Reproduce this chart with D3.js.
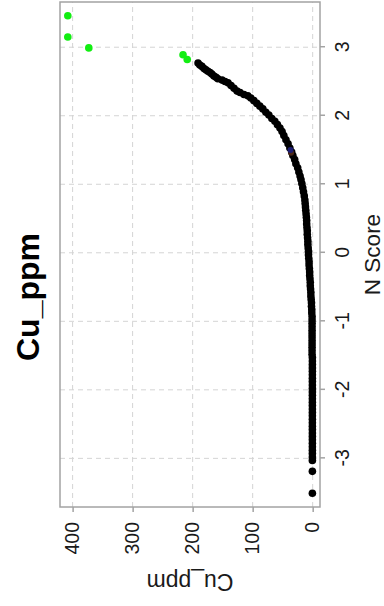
<!DOCTYPE html>
<html>
<head>
<meta charset="utf-8">
<script src="https://cdn.jsdelivr.net/npm/d3@7"></script>
<style>
  html, body { margin: 0; padding: 0; background: #ffffff; }
  svg { display: block; font-family: "Liberation Sans", Arial, Helvetica, sans-serif; }
</style>
</head>
<body>
<svg id="chart" width="384" height="606"></svg>
<script>
// Normal scores (sorted) and the matching Cu values
const nScore = [
  -3.51, -3.19,
  -3.03, -2.98, -2.93, -2.88, -2.83, -2.78, -2.73, -2.68, -2.63, -2.58,
  -2.53, -2.48, -2.43, -2.38, -2.33, -2.28, -2.23, -2.18, -2.13, -2.08,
  -2.03, -1.98, -1.93, -1.88, -1.83, -1.78, -1.73, -1.68, -1.63, -1.58, -1.53,
  -1.48, -1.43, -1.38, -1.33, -1.28, -1.23, -1.18, -1.13, -1.08,
  -1.03, -0.98, -0.93, -0.88, -0.83, -0.78, -0.73, -0.68, -0.63, -0.58,
  -0.53, -0.48, -0.43, -0.38, -0.33, -0.28, -0.23, -0.18, -0.13, -0.08,
  -0.03, 0.02, 0.07, 0.12, 0.17, 0.22, 0.27, 0.32, 0.37, 0.42,
  0.47, 0.52, 0.57, 0.62, 0.67, 0.72,
  0.77, 0.83, 0.89, 0.95, 1.01, 1.07, 1.12, 1.18, 1.24, 1.30,
  1.36, 1.42, 1.47, 1.53, 1.59, 1.65, 1.71, 1.77, 1.82, 1.87,
  1.92, 1.96, 2.01, 2.05, 2.10, 2.14, 2.18, 2.22, 2.26, 2.29,
  2.31, 2.34, 2.36, 2.40, 2.44, 2.48, 2.50, 2.52, 2.54, 2.56,
  2.58, 2.61, 2.63, 2.65, 2.67, 2.69, 2.72, 2.74, 2.77
];
const cuPpm = [
  0.5, 0.5,
  0.5, 0.5, 0.5, 0.5, 0.5, 0.5, 0.5, 0.5, 0.5, 0.5,
  0.5, 0.5, 0.5, 0.5, 0.5, 0.5, 0.5, 0.5, 0.5, 0.5,
  0.5, 0.5, 0.5, 0.5, 0.5, 0.5, 0.5, 0.5, 0.5, 0.5, 0.5,
  1, 1, 1, 1, 1, 1, 1, 1, 1,
  1, 1, 1, 1.5, 1.5, 2, 2, 2.5, 3, 3,
  3.5, 4, 4, 4.5, 5, 5, 5.5, 6, 6, 6.5,
  7, 7, 7.5, 8, 8, 8.5, 9, 9, 9.5, 10,
  10, 10.5, 11, 11.5, 12, 12.5,
  13, 14, 15.3, 16.5, 18, 19.5, 21, 23, 25, 28,
  30, 33, 35, 38, 41, 44.5, 48, 51, 54.5, 58.7,
  63, 68, 73, 78, 83, 88, 93, 98, 103, 108,
  114.5, 121, 126, 131, 136, 141, 146, 151, 158, 161,
  164.5, 168, 171, 174.5, 178, 181, 184.5, 188, 191
];
// Upper outliers shown in green
const outlierScore = [2.82, 2.89, 2.99, 3.15, 3.46];
const outlierCu = [209, 216, 373, 408, 408];
// A few samples flagged in other colours
const accentScore = [1.46, 1.50];
const accentCu = [36, 37];
const accentColor = ["#4a2616", "#1c1c70"];

const scoreTicks = [-3, -2, -1, 0, 1, 2, 3];
const cuTicks = [0, 100, 200, 300, 400];

const titleText = "Cu_ppm";
const xLabel = "N Score";
const yLabel = "Cu_ppm";

// The plot is laid out in a landscape frame (606 wide, 384 tall) and turned a quarter-turn.
const svg = d3.select("#chart");
const g = svg.append("g").attr("transform", "translate(0,606) rotate(-90)");

const plot = { left: 99, right: 604, top: 60, bottom: 320 };

const x = d3.scaleLinear().domain([-3.71, 3.66]).range([plot.left, plot.right]);
const y = d3.scaleLinear().domain([-12.2, 421]).range([plot.bottom, plot.top]);

const gridColor = "#d4d4d4";
const axisColor = "#a3a3a3";
const textColor = "#1a1a1a";

// grid
g.append("g").selectAll("line.gx").data(scoreTicks).join("line")
  .attr("x1", d => x(d)).attr("x2", d => x(d))
  .attr("y1", plot.top).attr("y2", plot.bottom)
  .attr("stroke", gridColor).attr("stroke-width", 1).attr("stroke-dasharray", "5,4");
g.append("g").selectAll("line.gy").data(cuTicks).join("line")
  .attr("x1", plot.left).attr("x2", plot.right)
  .attr("y1", d => y(d)).attr("y2", d => y(d))
  .attr("stroke", gridColor).attr("stroke-width", 1).attr("stroke-dasharray", "5,4");

// axes
const xAxis = d3.axisBottom(x).tickValues(scoreTicks).tickSize(5).tickPadding(10)
  .tickFormat(d => String(d));
const yAxis = d3.axisLeft(y).tickValues(cuTicks).tickSize(5).tickPadding(10)
  .tickFormat(d => String(d));

const gx = g.append("g").attr("transform", `translate(0,${plot.bottom})`).call(xAxis);
const gy = g.append("g").attr("transform", `translate(${plot.left},0)`).call(yAxis);
[gx, gy].forEach(a => {
  a.select(".domain").remove();
  a.selectAll(".tick line").attr("stroke", axisColor).attr("stroke-width", 1.5);
  a.selectAll(".tick text").attr("fill", textColor)
    .style("font-size", "19.5px").style("font-family", "'Liberation Sans', Arial, sans-serif");
});

// frame
g.append("rect")
  .attr("x", plot.left).attr("y", plot.top)
  .attr("width", plot.right - plot.left).attr("height", plot.bottom - plot.top)
  .attr("fill", "none").attr("stroke", axisColor).attr("stroke-width", 1.5);

// points
const pts = nScore.map((s, i) => ({ s, v: cuPpm[i] }));
g.append("g").selectAll("circle").data(pts).join("circle")
  .attr("cx", d => x(d.s)).attr("cy", d => y(d.v)).attr("r", 3.8)
  .attr("fill", "#000000");

const acc = accentScore.map((s, i) => ({ s, v: accentCu[i], c: accentColor[i] }));
g.append("g").selectAll("circle").data(acc).join("circle")
  .attr("cx", d => x(d.s)).attr("cy", d => y(d.v)).attr("r", 3)
  .attr("fill", d => d.c);

const outs = outlierScore.map((s, i) => ({ s, v: outlierCu[i] }));
g.append("g").selectAll("circle").data(outs).join("circle")
  .attr("cx", d => x(d.s)).attr("cy", d => y(d.v)).attr("r", 3.8)
  .attr("fill", "#12ee12");

// titles
g.append("text")
  .attr("x", 309).attr("y", 39)
  .attr("text-anchor", "middle")
  .attr("fill", "#000000")
  .style("font-size", "32px").style("font-weight", "bold")
  .text(titleText);

g.append("text")
  .attr("x", (plot.left + plot.right) / 2).attr("y", 380)
  .attr("text-anchor", "middle")
  .attr("fill", textColor)
  .style("font-size", "22.5px")
  .text(xLabel);

g.append("text")
  .attr("transform", `translate(32,${(plot.top + plot.bottom) / 2}) rotate(-90)`)
  .attr("text-anchor", "middle")
  .attr("fill", textColor)
  .style("font-size", "23px")
  .text(yLabel);
</script>
</body>
</html>
